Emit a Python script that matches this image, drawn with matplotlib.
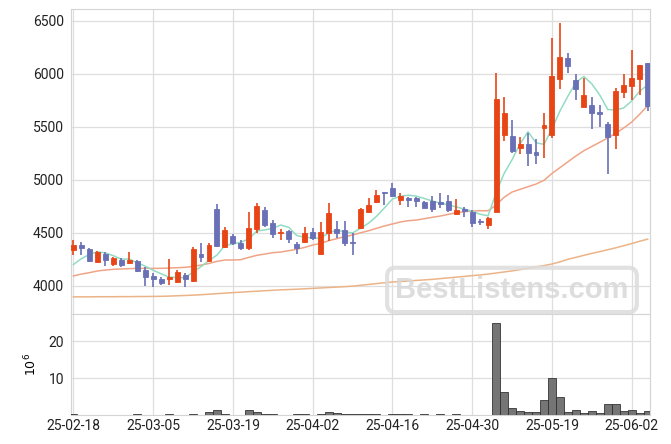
import numpy as np
import matplotlib.pyplot as plt

tick_labels = ['25-02-18', '25-03-05', '25-03-19', '25-04-02', '25-04-16', '25-04-30', '25-05-19', '25-06-02']

opens = [4337, 4384, 4344, 4221, 4297, 4205, 4243, 4217, 4236, 4148,
         4092, 4066, 4066, 4038, 4101, 4047, 4299, 4236, 4724, 4368,
         4469, 4406, 4359, 4533, 4715, 4589, 4495, 4517, 4391, 4416,
         4504, 4297, 4495, 4532, 4526, 4416, 4548, 4699, 4793, 4882,
         4920, 4809, 4825, 4825, 4793, 4800, 4790, 4803, 4677, 4721,
         4699, 4614, 4573, 4693, 5426, 5414, 5303, 5338, 5260, 5492,
         5426, 5949, 6148, 5943, 5690, 5707, 5640, 5527, 5426, 5832,
         5889, 5952, 6100]
highs = [4432, 4415, 4353, 4330, 4321, 4274, 4259, 4318, 4243, 4174,
         4117, 4079, 4249, 4148, 4117, 4365, 4400, 4400, 4772, 4551,
         4485, 4432, 4699, 4784, 4746, 4620, 4532, 4526, 4410, 4551,
         4542, 4604, 4778, 4614, 4614, 4495, 4730, 4825, 4904, 4888,
         4973, 4873, 4835, 4840, 4803, 4847, 4873, 4857, 4816, 4746,
         4715, 4627, 4652, 6013, 5779, 5565, 5407, 5439, 5383, 5634,
         6337, 6478, 6195, 5996, 5959, 5785, 5707, 5543, 5870, 5996,
         6226, 6084, 6100]
lows = [4290, 4290, 4227, 4215, 4186, 4186, 4174, 4205, 4132, 3997,
        3991, 4003, 4003, 4022, 3991, 4038, 4227, 4227, 4365, 4353,
        4384, 4337, 4337, 4495, 4557, 4448, 4432, 4400, 4299, 4400,
        4432, 4290, 4422, 4448, 4378, 4290, 4540, 4684, 4778, 4762,
        4840, 4762, 4746, 4740, 4730, 4699, 4731, 4699, 4668, 4652,
        4557, 4573, 4535, 4693, 5369, 5256, 5244, 5131, 5149, 5209,
        5392, 5855, 6006, 5754, 5685, 5477, 5496, 5055, 5288, 5770,
        5754, 5801, 5653]
closes = [4384, 4359, 4236, 4321, 4243, 4259, 4195, 4243, 4142, 4085,
          4066, 4028, 4085, 4129, 4066, 4344, 4274, 4384, 4378, 4526,
          4406, 4359, 4542, 4753, 4573, 4485, 4510, 4441, 4359, 4495,
          4448, 4504, 4684, 4500, 4406, 4400, 4722, 4762, 4857, 4873,
          4847, 4847, 4809, 4803, 4737, 4721, 4772, 4715, 4715, 4708,
          4595, 4604, 4636, 5763, 5628, 5275, 5338, 5250, 5237, 5518,
          5981, 6157, 6078, 5861, 5801, 5634, 5624, 5401, 5839, 5895,
          5965, 6084, 5697]

# volume in millions
volume = [0.3, 0, 0, 0, 0, 0, 0, 0, 0.3, 0,
          0, 0, 0.3, 0, 0, 0.3, 0, 0.9, 1.4, 0.3,
          0, 0, 1.4, 0.9, 0.3, 0.3, 0, 0, 0.3, 0.3,
          0, 0.3, 0.8, 0.5, 0.3, 0.3, 0.3, 0.3, 0.3, 0,
          0.3, 0.3, 0.3, 0, 0.3, 0, 0.3, 0, 0.3, 0,
          0, 0, 0, 24.8, 6.3, 2.0, 1.2, 0.9, 0.9, 4.0,
          9.9, 5.0, 0.9, 1.45, 0.6, 1.2, 0.6, 3.1, 2.9, 1.2,
          1.45, 0.6, 1.2]

ma5 = [4200, 4255, 4295, 4320, 4309, 4284, 4251, 4252, 4216, 4185,
       4146, 4113, 4081, 4079, 4075, 4130, 4180, 4239, 4289, 4381,
       4394, 4411, 4442, 4517, 4527, 4542, 4573, 4552, 4474, 4458,
       4451, 4449, 4498, 4526, 4508, 4499, 4542, 4590, 4655, 4735,
       4818, 4845, 4855, 4846, 4824, 4800, 4780, 4764, 4744, 4724,
       4703, 4675, 4660, 4880, 5060, 5190, 5340, 5454, 5350, 5335,
       5480, 5650, 5790, 5919, 5976, 5906, 5800, 5664, 5660, 5679,
       5745, 5837, 5896]
ma20 = [4092, 4110, 4123, 4139, 4148, 4155, 4158, 4161, 4164, 4164,
        4164, 4164, 4167, 4170, 4174, 4182, 4195, 4210, 4230, 4243,
        4243, 4246, 4268, 4287, 4299, 4312, 4318, 4331, 4344, 4362,
        4384, 4400, 4425, 4444, 4463, 4479, 4500, 4519, 4542, 4564,
        4583, 4602, 4614, 4620, 4633, 4646, 4658, 4674, 4689, 4699,
        4705, 4708, 4708, 4762, 4835, 4885, 4910, 4935, 4960, 4995,
        5060, 5115, 5170, 5225, 5275, 5315, 5355, 5395, 5440, 5490,
        5545, 5620, 5700]
ma60 = [3895, 3895, 3895, 3896, 3896, 3896, 3897, 3897, 3898, 3898,
        3899, 3900, 3902, 3905, 3908, 3911, 3915, 3920, 3925, 3930,
        3935, 3939, 3944, 3948, 3953, 3957, 3961, 3964, 3967, 3971,
        3975, 3979, 3983, 3987, 3991, 3996, 4004, 4012, 4020, 4028,
        4035, 4040, 4045, 4050, 4055, 4060, 4067, 4074, 4081, 4088,
        4095, 4102, 4110, 4120, 4130, 4140, 4152, 4165, 4178, 4190,
        4205, 4225, 4250, 4268, 4287, 4305, 4322, 4340, 4358, 4378,
        4398, 4420, 4440]

up_color = '#e84516'
down_color = '#6a70b6'

plt.rcParams['font.family'] = ['Roboto', 'DejaVu Sans']
fig = plt.figure(figsize=(6.71, 4.44), dpi=100)
ax = fig.add_axes([0.1058, 0.2928, 0.8636, 0.6862])
axv = fig.add_axes([0.1058, 0.0653, 0.8636, 0.2275], sharex=ax)

x = np.arange(len(closes))
o = np.array(opens)
c = np.array(closes)
colors = [up_color if cc >= oo else down_color for oo, cc in zip(o, c)]

ax.plot(x, ma60, color='#ebb488', lw=1.1, zorder=2)
ax.plot(x, ma20, color='#f0a487', lw=1.1, zorder=2)
ax.plot(x, ma5, color='#93dcc4', lw=1.1, zorder=2)
ax.vlines(x, lows, highs, colors=colors, lw=1.2, zorder=3)
ax.bar(x, c - o, bottom=o, width=0.62, color=colors, edgecolor=colors, lw=0.6, zorder=4)

vol = np.array(volume)
has_vol = vol > 0
axv.bar(x[has_vol], vol[has_vol], width=1.0, color='#6e6e6e', edgecolor='#2e2e2e',
        lw=0.6, alpha=0.95, zorder=3)

for a in (ax, axv):
    a.grid(True, color='#dedede', lw=0.9)
    a.set_axisbelow(True)
    for s in a.spines.values():
        s.set_color('#d4d4d4')
    a.tick_params(length=0, labelsize=10, colors='#222222', pad=5)

ax.set_xlim(-0.3, 72.35)
ax.set_ylim(3733, 6610)
ax.set_yticks([4000, 4500, 5000, 5500, 6000, 6500])
ax.tick_params(axis='x', labelbottom=False)

axv.set_ylim(0, 27.3)
axv.set_yticks([10, 20])
axv.set_xticks(np.arange(0, 71, 10))
axv.set_xticklabels(tick_labels)
axv.tick_params(axis='x', pad=3)
axv.set_ylabel(r'$10^{6}$', fontsize=9, family='DejaVu Sans')
axv.yaxis.set_label_coords(-0.055, 0.5)

fig.text(0.763, 0.347, 'BestListens.com', fontsize=21, fontweight='bold',
         family='Liberation Sans', color='#d8d8d8', alpha=0.85, ha='center', va='center',
         bbox=dict(boxstyle='round,pad=0.28', fc='none', ec='#dcdcdc', lw=3, alpha=0.85), zorder=10)

fig.savefig('out.png', dpi=100)
